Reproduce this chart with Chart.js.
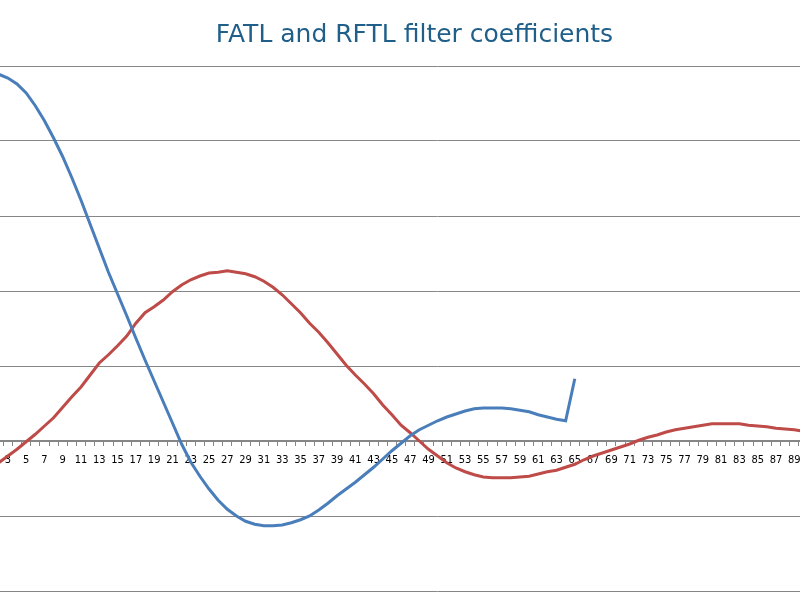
<!DOCTYPE html>
<html>
<head>
<meta charset="utf-8">
<script src="https://cdn.jsdelivr.net/npm/chart.js@4.4.1/dist/chart.umd.min.js"></script>
<style>
  html, body { margin: 0; padding: 0; background: #fff; overflow: hidden; }
  #wrap { position: absolute; left: -70px; top: 0; width: 970px; height: 600px; }
</style>
</head>
<body>
<div id="wrap"><canvas id="coefChart" width="970" height="600"></canvas></div>
<script>
// category index (1..99), only odd ones get a label
const categories = [
  1, 2, 3, 4, 5, 6, 7, 8, 9, 10, 11, 12, 13, 14, 15, 16, 17, 18, 19, 20,
  21, 22, 23, 24, 25, 26, 27, 28, 29, 30, 31, 32, 33, 34, 35, 36, 37, 38, 39, 40,
  41, 42, 43, 44, 45, 46, 47, 48, 49, 50, 51, 52, 53, 54, 55, 56, 57, 58, 59, 60,
  61, 62, 63, 64, 65, 66, 67, 68, 69, 70, 71, 72, 73, 74, 75, 76, 77, 78, 79, 80,
  81, 82, 83, 84, 85, 86, 87, 88, 89, 90, 91, 92, 93, 94, 95, 96, 97, 98, 99
];

const fatl = [
  0.493, 0.489, 0.484, 0.476, 0.464, 0.447, 0.427, 0.404, 0.379, 0.351,
  0.321, 0.289, 0.257, 0.225, 0.196, 0.167, 0.137, 0.108, 0.080, 0.052,
  0.024, -0.004, -0.028, -0.047, -0.064, -0.079, -0.091, -0.100, -0.107, -0.111,
  -0.113, -0.113, -0.112, -0.109, -0.105, -0.100, -0.092, -0.083, -0.073, -0.064,
  -0.055, -0.045, -0.035, -0.024, -0.013, -0.003, 0.007, 0.015, 0.021, 0.027,
  0.032, 0.036, 0.040, 0.043, 0.044, 0.044, 0.044, 0.043, 0.041, 0.039,
  0.035, 0.032, 0.029, 0.027, 0.083
];

const rftl = [
  -0.039, -0.029, -0.020, -0.011, -0.001, 0.009, 0.020, 0.031, 0.045, 0.059,
  0.072, 0.088, 0.104, 0.115, 0.127, 0.140, 0.157, 0.171, 0.179, 0.188,
  0.199, 0.208, 0.215, 0.220, 0.224, 0.225, 0.227, 0.225, 0.223, 0.219,
  0.213, 0.205, 0.195, 0.183, 0.171, 0.157, 0.145, 0.131, 0.116, 0.101,
  0.088, 0.076, 0.063, 0.048, 0.035, 0.021, 0.011, 0.000, -0.011, -0.020,
  -0.029, -0.036, -0.041, -0.045, -0.048, -0.049, -0.049, -0.049, -0.048, -0.047,
  -0.044, -0.041, -0.039, -0.035, -0.031, -0.025, -0.020, -0.016, -0.012, -0.008,
  -0.004, 0.001, 0.005, 0.008, 0.012, 0.015, 0.017, 0.019, 0.021, 0.023,
  0.023, 0.023, 0.023, 0.021, 0.020, 0.019, 0.017, 0.016, 0.015, 0.013,
  0.012
];

const yMin = -0.2;
const yMax = 0.5;
const yStep = 0.1;

const ctx = document.getElementById('coefChart').getContext('2d');
const coefChart = new Chart(ctx, {
    type: 'line',
    data: {
        labels: categories,
        datasets: [{
            label: 'FATL',
            data: fatl,
            borderColor: '#4a7ebb',
            borderWidth: 3,
            pointRadius: 0,
            fill: false
        }, {
            label: 'RFTL',
            data: rftl,
            borderColor: '#be4b48',
            borderWidth: 3,
            pointRadius: 0,
            fill: false
        }]
    },
    options: {
        responsive: false,
        animation: false,
        layout: {
            padding: { left: 0, right: 1, top: 0, bottom: 9 }
        },
        plugins: {
            legend: { display: false },
            tooltip: { enabled: false },
            title: {
                display: true,
                text: 'FATL and RFTL filter coefficients',
                color: '#1f5f8a',
                font: { family: 'DejaVu Sans', size: 25, weight: 'normal' },
                padding: { top: 20, bottom: 16 }
            }
        },
        scales: {
            x: {
                type: 'category',
                position: { y: 0 },
                offset: true,
                grid: {
                    offset: true,
                    drawOnChartArea: false,
                    drawTicks: true,
                    tickLength: 5,
                    color: '#868686'
                },
                border: { display: true, color: '#868686', width: 1 },
                ticks: {
                    autoSkip: false,
                    maxRotation: 0,
                    padding: 8,
                    color: '#000',
                    font: { family: 'DejaVu Sans Condensed', size: 11 },
                    callback: function (value, index) {
                        return index % 2 === 0 ? this.getLabelForValue(value) : '';
                    }
                }
            },
            y: {
                min: yMin,
                max: yMax,
                afterFit: function (scale) { scale.width = 55; },
                grid: { color: '#868686', drawTicks: false },
                border: { display: false },
                ticks: {
                    stepSize: yStep,
                    color: '#000',
                    font: { family: 'DejaVu Sans', size: 10 }
                }
            }
        }
    }
});
</script>
</body>
</html>
